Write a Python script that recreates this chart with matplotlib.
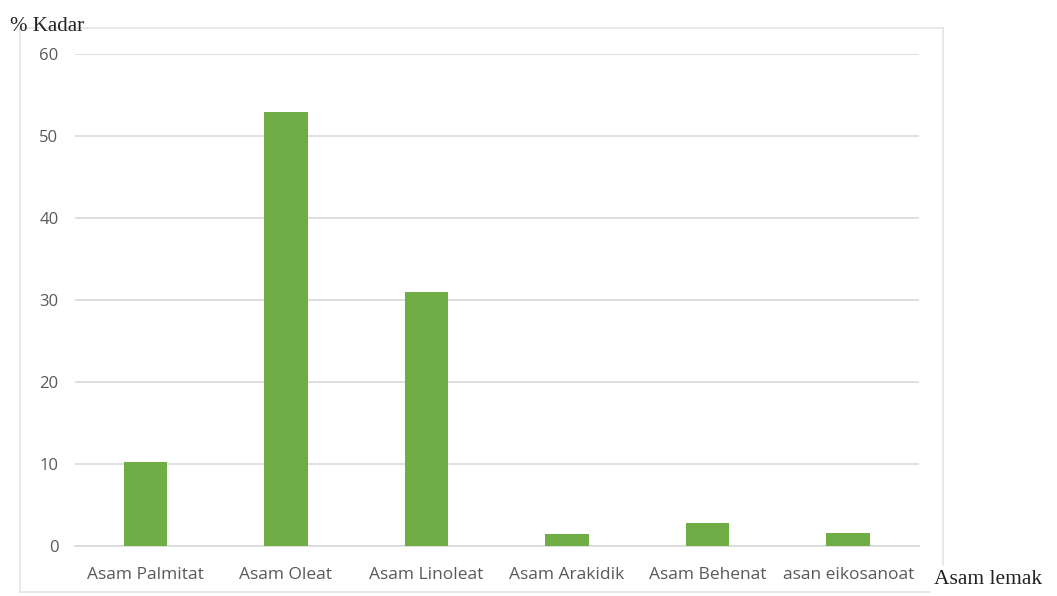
import matplotlib.pyplot as plt
from matplotlib.lines import Line2D

categories = ["Asam Palmitat", "Asam Oleat", "Asam Linoleat",
              "Asam Arakidik", "Asam Behenat", "asan eikosanoat"]
kadar = [10.2, 52.9, 31.0, 1.5, 2.8, 1.6]
y_ticks = [0, 10, 20, 30, 40, 50, 60]

fig = plt.figure(figsize=(10.57, 5.96), dpi=100)
ax = fig.add_axes([0.071, 0.084, 0.798, 0.825])

ax.bar(range(len(categories)), kadar, width=0.31, color="#70AD47", zorder=3)

ax.set_xlim(-0.5, len(categories) - 0.5)
ax.set_ylim(0, 60)
ax.set_yticks(y_ticks)
ax.set_xticks(range(len(categories)))
ax.set_xticklabels(categories)
ax.grid(axis="y", color="#D9D9D9", linewidth=1.2, zorder=0)
for side in ["left", "right", "top"]:
    ax.spines[side].set_visible(False)
ax.spines["bottom"].set_color("#D9D9D9")
ax.spines["bottom"].set_linewidth(1.2)
ax.tick_params(length=0, colors="#595959")
ax.tick_params(axis="x", labelsize=12.5, pad=15)
ax.tick_params(axis="y", labelsize=12, pad=12)
for lbl in ax.get_xticklabels() + ax.get_yticklabels():
    lbl.set_family("Open Sans")

# outer chart frame; bottom-right corner is left open for the x-axis title
frame = dict(color="#E4E4E4", linewidth=1.2, transform=fig.transFigure)
fig.add_artist(Line2D([0.019, 0.892], [0.953, 0.953], **frame))
fig.add_artist(Line2D([0.019, 0.019], [0.953, 0.006], **frame))
fig.add_artist(Line2D([0.019, 0.880], [0.006, 0.006], **frame))
fig.add_artist(Line2D([0.892, 0.892], [0.953, 0.052], **frame))

fig.text(0.009, 0.948, "% Kadar", family="Liberation Serif", fontsize=15, color="#222222")
fig.text(0.884, 0.012, "Asam lemak", family="Liberation Serif", fontsize=15.5,
         color="#222222", va="bottom")

fig.savefig("out.png", dpi=100)
